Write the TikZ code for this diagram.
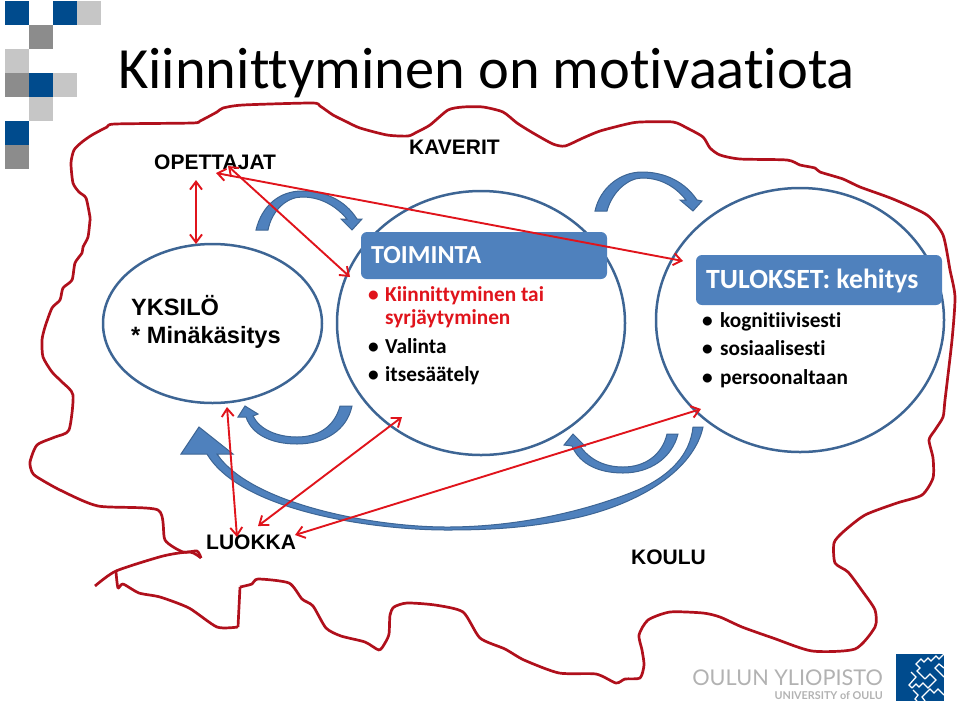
\documentclass[tikz,border=0pt]{standalone}
\usepackage{fontspec}
\setmainfont[Ligatures=NoCommon]{Carlito}
\newfontfamily\labelfont{Liberation Sans}
\newfontfamily\logofont{Lato}
\usepackage{tikz}
\usetikzlibrary{shapes.geometric, arrows.meta}
\definecolor{schemeBlue}{HTML}{4F81BD}
\definecolor{schemeEdge}{HTML}{3D6594}
\definecolor{sketchRed}{HTML}{B0101C}
\definecolor{linkRed}{HTML}{E0141C}
\definecolor{logoBlue}{HTML}{004B8D}
\definecolor{logoGray}{HTML}{8C8C8C}
\definecolor{logoLight}{HTML}{C6C6C6}
\tikzstyle{blob}=[color=sketchRed, line width=2.7pt, line join=round]
\tikzstyle{bubble}=[ellipse, draw=schemeEdge, line width=2.5pt, inner sep=0pt]
\tikzstyle{headBox}=[rectangle, fill=schemeBlue, rounded corners=6pt, inner sep=0pt, minimum width=246pt]
\tikzstyle{flowArrow}=[fill=schemeBlue, draw=schemeEdge, line width=1pt, line join=miter]
\tikzstyle{linkArrow}=[{Straight Barb[length=8pt,width=12pt]}-{Straight Barb[length=8pt,width=12pt]}, color=linkRed, line width=1.9pt]
\tikzstyle{caption}=[anchor=base west, inner sep=0pt, font=\labelfont\bfseries\fontsize{21}{21}\selectfont]
\tikzstyle{bigCaption}=[caption, font=\labelfont\bfseries\fontsize{23.6}{24}\selectfont]
\tikzstyle{headText}=[anchor=base west, inner sep=0pt, text=white, font=\bfseries\fontsize{26}{26}\selectfont]
\tikzstyle{itemText}=[anchor=base west, inner sep=0pt, font=\bfseries\fontsize{21.3}{22}\selectfont]
\begin{document}
\begin{tikzpicture}[x=1pt, y=-1pt]
  \useasboundingbox (0,0) rectangle (960,705);

  % squares of the slide template
  \foreach \sx/\sy/\scol in {5/1/logoBlue, 53/1/logoBlue, 77/1/logoLight, 29/25/logoGray,
      5/49/logoLight, 5/73/logoGray, 29/73/logoBlue, 53/73/logoLight,
      29/97/logoLight, 5/121/logoBlue, 5/145/logoGray}
    \fill[\scol] (\sx,\sy) rectangle ++(23.5,23.5);

  \node[anchor=base west, inner sep=0pt, font=\fontsize{58.4}{59}\selectfont] (title) at (118,88) {Kiinnittyminen on motivaatiota};

  % hand drawn outline
  \draw[blob] plot[smooth, tension=0.4] coordinates {
    (90,220) (88,237) (83,247) (82,253) (75,263) (72,280) (63,288) (60,300) (52,308)
    (45,327) (42,340) (43,357) (52,372) (62,382) (73,395) (69,430) (55,437) (37,445)
    (30,462) (32,472) (37,477) (60,490) (98,506) (158,510) (165,540) (183,552) (197,551)
    (201,558)};
  \draw[blob] plot[smooth, tension=0.4] coordinates {
    (201,558) (190,552) (163,556) (116,571) (95,586)};
  \draw[blob] plot[smooth, tension=0.4] coordinates {
    (116,572) (118,588) (123,584) (139,593) (160,597) (189,608) (217,627) (238,627)};
  \draw[blob] (238,627) -- (240,587);
  \draw[blob] plot[smooth, tension=0.4] coordinates {
    (240,587) (252,584) (258,579) (289,583) (302,599) (313,606) (326,628) (341,636)
    (365,642) (379,650) (385,643) (389,634) (390,615) (394,607) (407,603) (435,605)
    (463,612) (480,638) (505,649) (524,660) (559,673) (596,674) (616,683) (625,679) (640,678)
    (644,665) (642,650) (639,635) (648,620) (670,612) (703,613) (720,617) (742,627)
    (773,638) (812,651) (855,649) (875,627) (875,610) (863,592) (848,572) (835,563)
    (834,543) (843,532) (865,515) (897,503) (922,495) (933,478) (933,458) (929,440)
    (935,430) (943,417) (945,400) (952,340) (955,297) (950,270) (943,235) (927,215)
    (893,199) (860,187) (843,179) (820,172) (815,168) (800,165) (787,160) (740,159)
    (720,155) (710,148) (703,137) (687,128) (673,122) (640,122) (627,124) (600,131)
    (583,138) (565,146) (553,144) (533,133) (517,123) (503,112) (483,107) (463,107)
    (448,110) (430,125) (417,132) (408,136) (387,135) (360,128) (347,122) (333,115)
    (320,106) (312,103) (243,105) (223,108) (217,112) (200,121) (192,123) (115,124)
    (107,127) (92,135) (82,142) (74,150) (71,163) (73,183) (79,192) (86,198) (90,217)
    (90,220)};

  % bubbles
  \node[bubble, minimum width=219pt, minimum height=159pt] (yksilo) at (212.5,323.5) {};
  \node[bubble, minimum width=288pt, minimum height=264pt] (toiminta) at (481,323) {};
  \node[bubble, minimum width=288pt, minimum height=264pt] (tulokset) at (800,320) {};
  \node[headBox, minimum height=47pt] (toimintaBox) at (484,255.5) {};
  \node[headBox, minimum height=50pt] (tuloksetBox) at (819,280) {};

  \node[headText] (toimintaHead) at (371,263) {TOIMINTA};
  \node[headText, font=\bfseries\fontsize{27.8}{28}\selectfont] (tuloksetHead) at (706,288) {TULOKSET: kehitys};

  \node[itemText, text=linkRed] (dotA) at (368,301) {•};
  \node[itemText, text=linkRed] (itemA) at (385,301) {Kiinnittyminen tai};
  \node[itemText, text=linkRed] (itemAb) at (385,324) {syrjäytyminen};
  \node[itemText] (dotB) at (368,353) {•};
  \node[itemText] (itemB) at (385,353) {Valinta};
  \node[itemText] (dotC) at (368,381) {•};
  \node[itemText] (itemC) at (385,381) {itsesäätely};
  \node[itemText] (dotD) at (702,327) {•};
  \node[itemText] (itemD) at (720,327) {kognitiivisesti};
  \node[itemText] (dotE) at (702,355) {•};
  \node[itemText] (itemE) at (720,355) {sosiaalisesti};
  \node[itemText] (dotF) at (702,384) {•};
  \node[itemText] (itemF) at (720,384) {persoonaltaan};

  \node[caption] (opettajat) at (154,169) {OPETTAJAT};
  \node[caption] (kaverit) at (409,154) {KAVERIT};
  \node[bigCaption] (yksiloHead) at (131,315) {YKSILÖ};
  \node[bigCaption] (minakasitys) at (131,343) {* Minäkäsitys};
  \node[caption] (luokka) at (206,549) {LUOKKA};
  \node[caption] (koulu) at (631,564) {KOULU};

  % curved arrows
  \filldraw[flowArrow] (256,230) .. controls (262,205) and (280,191) .. (302,191)
    .. controls (325,191) and (345,200) .. (357,219) -- (362,219) -- (352,230) -- (341,219) -- (347,219)
    .. controls (335,205) and (320,197) .. (302,197) .. controls (287,197) and (272,210) .. (268,230) -- cycle;
  \filldraw[flowArrow] (595,211) .. controls (600,188) and (620,172) .. (642,172)
    .. controls (665,172) and (685,182) .. (697,200) -- (702,201) -- (693,211) -- (680,200) -- (686,200)
    .. controls (675,186) and (660,178) .. (642,178) .. controls (628,178) and (612,192) .. (607,211) -- cycle;
  \filldraw[flowArrow] (352,406) .. controls (347,430) and (325,444) .. (297,444)
    .. controls (272,444) and (252,435) .. (246,417) -- (238,417) -- (245,406) -- (258,414) -- (253,416)
    .. controls (260,430) and (278,437) .. (297,437) .. controls (320,437) and (335,425) .. (340,406) -- cycle;
  \filldraw[flowArrow] (678,434) .. controls (672,458) and (650,473) .. (623,473)
    .. controls (600,473) and (580,465) .. (572,446) -- (564,445) -- (573,434) -- (585,446) -- (580,446)
    .. controls (590,460) and (605,467) .. (623,467) .. controls (645,467) and (662,455) .. (667,434) -- cycle;
  \filldraw[flowArrow] (703,427) .. controls (695,465) and (650,500) .. (580,517)
    .. controls (530,528) and (490,530) .. (447,530) .. controls (370,530) and (240,510) .. (207,454)
    -- (181,454) -- (199,427) -- (233,454) -- (217,454)
    .. controls (250,503) and (370,527) .. (447,527) .. controls (520,527) and (590,510) .. (640,489)
    .. controls (670,475) and (690,455) .. (693,427) -- cycle;

  % links
  \coordinate (opettajatSouth) at (196,180);
  \coordinate (yksiloTop) at (196,244);
  \coordinate (opettajatA) at (216,173);
  \coordinate (tuloksetLeft) at (683,261);
  \coordinate (opettajatB) at (228,166);
  \coordinate (toimintaLeft) at (350,277);
  \coordinate (yksiloBottom) at (227,407);
  \coordinate (luokkaTop) at (237,537);
  \coordinate (luokkaRight) at (258,526);
  \coordinate (toimintaBottom) at (402,417);
  \coordinate (luokkaEnd) at (295,535);
  \coordinate (tuloksetBottom) at (701,409);
  \draw[linkArrow] (opettajatSouth) -- (yksiloTop);
  \draw[linkArrow] (opettajatA) -- (tuloksetLeft);
  \draw[linkArrow] (opettajatB) -- (toimintaLeft);
  \draw[linkArrow] (yksiloBottom) -- (luokkaTop);
  \draw[linkArrow] (luokkaRight) -- (toimintaBottom);
  \draw[linkArrow] (luokkaEnd) -- (tuloksetBottom);

  % university logo
  \node[anchor=base east, inner sep=0pt, text=logoLight!90!black, font=\logofont\fontsize{21.7}{22}\selectfont] (logoName) at (883,685) {OULUN YLIOPISTO};
  \node[anchor=base east, inner sep=0pt, text=logoLight!90!black, font=\logofont\bfseries\fontsize{10.8}{11}\selectfont] (logoSub) at (883,699) {UNIVERSITY of OULU};
  \fill[logoBlue] (896,654) rectangle (944,701);
  \begin{scope}[white, line width=1.3pt]
    \draw (944,654) -- (939,659) -- (936,656) -- (931,661) -- (928,658) -- (924,662) -- (921,659) -- (916,664) -- (920,668) -- (917,671) -- (925,679);
    \draw (925,679) -- (930,674) -- (936,680) -- (928,688) -- (923,683) -- (919,687) -- (916,684) -- (912,688);
    \draw (912,688) -- (909,685) -- (916,677) -- (911,672);
    \draw (939,672) -- (944,677);
    \draw (939,672) -- (935,668) -- (939,664) -- (944,668);
    \draw (913,690) -- (918,695) -- (915,699) -- (917,701);
    \draw (925,701) -- (922,697) -- (930,689) -- (934,693) -- (938,689) -- (944,695);
  \end{scope}
\end{tikzpicture}
\end{document}
